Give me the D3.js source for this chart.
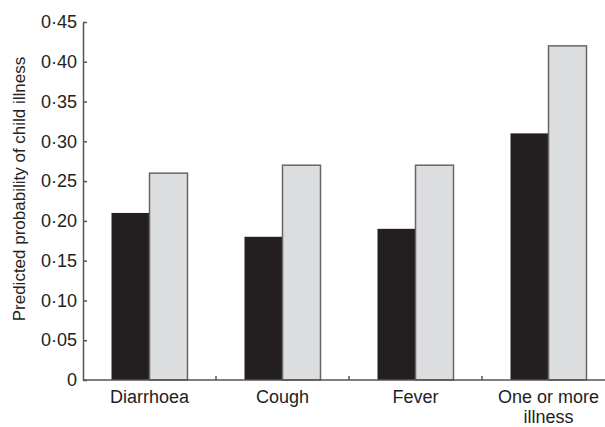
<!DOCTYPE html>
<html>
<head>
<meta charset="utf-8">
<script src="https://cdn.jsdelivr.net/npm/d3@7"></script>
<style>
  body { margin: 0; background: #fff; }
  text { font-family: "Liberation Sans", Arial, sans-serif; fill: #222; }
</style>
</head>
<body>
<div id="chart"></div>
<script>
const categories = ["Diarrhoea", "Cough", "Fever", "One or more illness"];
const series = ["group1", "group2"];
const darkValues = [0.21, 0.18, 0.19, 0.31];
const lightValues = [0.26, 0.27, 0.27, 0.42];
const yTicks = [0, 0.05, 0.10, 0.15, 0.20, 0.25, 0.30, 0.35, 0.40, 0.45];
const yTickLabels = ["0", "0·05", "0·10", "0·15", "0·20", "0·25", "0·30", "0·35", "0·40", "0·45"];
const yLabel = "Predicted probability of child illness";

function drawChart() {
    const width = 605, height = 427;
    const margin = {top: 22, left: 83, bottom: 47};
    const plotRight = 615;

    let svg = d3.select("#chart")
        .append("svg")
        .attr("width", width)
        .attr("height", height);

    let x = d3.scaleBand()
        .domain(categories)
        .range([margin.left, plotRight]);

    let xInner = d3.scaleBand()
        .domain(series)
        .range([0, x.bandwidth()])
        .paddingInner(0)
        .paddingOuter(0.75);

    let y = d3.scaleLinear()
        .domain([0, 0.45])
        .range([height - margin.bottom, margin.top]);

    let data = categories.map((c, i) => ({cat: c, vals: [darkValues[i], lightValues[i]]}));
    let colors = ["#231f20", "#dcdddf"];

    let groups = svg.append("g")
        .selectAll("g")
        .data(data)
        .join("g")
        .attr("transform", d => "translate(" + x(d.cat) + ",0)");

    groups.selectAll("rect")
        .data(d => d.vals.map((v, j) => ({s: series[j], v: v, j: j})))
        .join("rect")
        .attr("x", d => xInner(d.s))
        .attr("y", d => y(d.v))
        .attr("width", xInner.bandwidth())
        .attr("height", d => y(0) - y(d.v))
        .attr("fill", d => colors[d.j])
        .attr("stroke", d => d.j == 1 ? "#666" : "none")
        .attr("stroke-width", 1.5);

    // y axis, ticks point inward
    let yAxis = svg.append("g")
        .attr("transform", "translate(" + margin.left + ",0)")
        .call(d3.axisLeft(y)
            .tickValues(yTicks)
            .tickFormat((d, i) => yTickLabels[i])
            .tickSizeInner(-4)
            .tickSizeOuter(0)
            .tickPadding(6));
    yAxis.select(".domain").attr("stroke", "#555").attr("stroke-width", 1.5);
    yAxis.selectAll(".tick line").attr("stroke", "#555").attr("stroke-width", 1.5);
    yAxis.selectAll("text").style("font-size", "18px").attr("fill", "#222");

    // x axis
    let xAxisG = svg.append("g")
        .attr("transform", "translate(0," + y(0) + ")");
    xAxisG.append("line")
        .attr("x1", margin.left)
        .attr("x2", plotRight)
        .attr("stroke", "#555")
        .attr("stroke-width", 1.5);
    xAxisG.selectAll(".sep")
        .data(categories.slice(1))
        .join("line")
        .attr("x1", d => x(d))
        .attr("x2", d => x(d))
        .attr("y1", 0)
        .attr("y2", -4)
        .attr("stroke", "#555")
        .attr("stroke-width", 1.5);

    xAxisG.selectAll(".lbl")
        .data(categories)
        .join("text")
        .attr("text-anchor", "middle")
        .style("font-size", "18px")
        .attr("transform", d => "translate(" + (x(d) + x.bandwidth() / 2) + ",0)")
        .each(function (d) {
            let lines = d == "One or more illness" ? ["One or more", "illness"] : [d];
            d3.select(this).selectAll("tspan")
                .data(lines)
                .join("tspan")
                .attr("x", 0)
                .attr("y", (l, i) => 23 + i * 20)
                .text(l => l);
        });

    svg.append("text")
        .attr("transform", "translate(25," + 189 + ") rotate(-90)")
        .attr("text-anchor", "middle")
        .style("font-size", "17px")
        .text(yLabel);
}
drawChart();
</script>
</body>
</html>
